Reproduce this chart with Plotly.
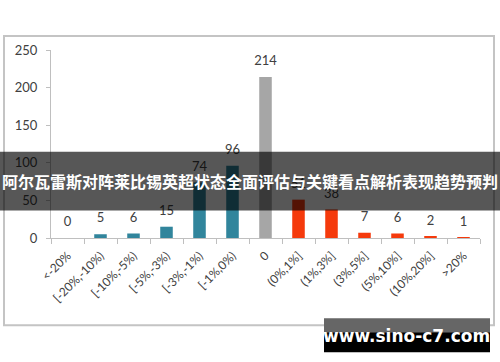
import plotly.graph_objects as go

categories = ["<-20%", "[-20%,-10%)", "[-10%,-5%)", "[-5%,-3%)", "[-3%,-1%)", "[-1%,0%)", "0",
              "(0%,1%]", "(1%,3%]", "(3%,5%]", "(5%,10%]", "(10%,20%]", ">20%"]
values = [0, 5, 6, 15, 74, 96, 214, 51, 38, 7, 6, 2, 1]
y_ticks = [0, 50, 100, 150, 200, 250]
banner_text = "阿尔瓦雷斯对阵莱比锡英超状态全面评估与关键看点解析表现趋势预判"
site_text = "www.sino-c7.com"

TEAL = "#31859C"
GRAY = "#A6A6A6"
RED = "#F53A0C"
colors = [TEAL] * 6 + [GRAY] + [RED] * 6

W, H = 500, 362
L, R, T, B = 51, 20, 50, 123.5
pw = W - L - R
ph = H - T - B

def px(x):
    return (x - L) / pw

def py(y):
    return (H - B - y) / ph

fig = go.Figure()
fig.add_trace(go.Bar(x=categories, y=values, marker=dict(color=colors, line=dict(width=0)),
                     width=0.38, showlegend=False, hoverinfo="skip"))
fig.add_trace(go.Scatter(x=categories, y=values, mode="markers+text", text=[str(v) for v in values],
                         textposition="top center",
                         marker=dict(size=12, opacity=0),
                         textfont=dict(family="Lato, Liberation Sans", size=13, color="#404040"),
                         showlegend=False, hoverinfo="skip", cliponaxis=False))

shapes = [
    dict(type="rect", xref="paper", yref="paper", x0=px(4), x1=px(494), y0=py(326), y1=py(36),
         line=dict(color="#C4C4C4", width=2), fillcolor="rgba(0,0,0,0)", layer="below"),
    dict(type="rect", xref="paper", yref="paper", x0=px(0), x1=px(500), y0=py(211), y1=py(152),
         line=dict(width=0), fillcolor="rgba(0,0,0,0.66)", layer="above"),
    dict(type="rect", xref="paper", yref="paper", x0=px(324), x1=px(490), y0=py(333), y1=py(319),
         line=dict(width=0), fillcolor="#666666", layer="above"),
    dict(type="rect", xref="paper", yref="paper", x0=px(324), x1=px(490), y0=py(353), y1=py(333),
         line=dict(width=0), fillcolor="#000000", layer="above"),
]

annotations = [
    dict(text=banner_text, xref="paper", yref="paper", x=px(250), y=py(181.5),
         showarrow=False, xanchor="center", yanchor="middle",
         font=dict(family="Noto Sans CJK SC", size=16, color="white", weight="bold")),
    dict(text=site_text, xref="paper", yref="paper", x=px(406.5), y=py(337),
         showarrow=False, xanchor="center", yanchor="middle",
         font=dict(family="DejaVu Sans", size=17, color="white", weight="bold")),
]

fig.update_layout(
    width=W, height=H,
    margin=dict(l=L, r=R, t=T, b=B, pad=0, autoexpand=False),
    paper_bgcolor="white", plot_bgcolor="white",
    shapes=shapes, annotations=annotations,
    bargap=0.6,
    xaxis=dict(type="category", range=[-0.5, 12.5], showgrid=False, showline=True,
               linecolor="#BFBFBF", linewidth=1, ticks="outside", ticklen=5, tickcolor="#BFBFBF",
               tickson="boundaries", tickangle=-45, automargin=False, ticklabelstandoff=5,
               tickfont=dict(family="Lato, Liberation Sans", size=12, color="#404040"),
               fixedrange=True),
    yaxis=dict(range=[0, 250], tickvals=y_ticks, showgrid=False, showline=True, zeroline=False,
               linecolor="#BFBFBF", linewidth=1, ticks="outside", ticklen=4, tickcolor="#BFBFBF",
               automargin=False,
               tickfont=dict(family="Lato, Liberation Sans", size=13, color="#404040"),
               ticklabelstandoff=6, fixedrange=True),
)

fig.write_html("out.html", config={"displayModeBar": False},
               post_script="document.body.style.margin='0';document.body.style.overflow='hidden';")
